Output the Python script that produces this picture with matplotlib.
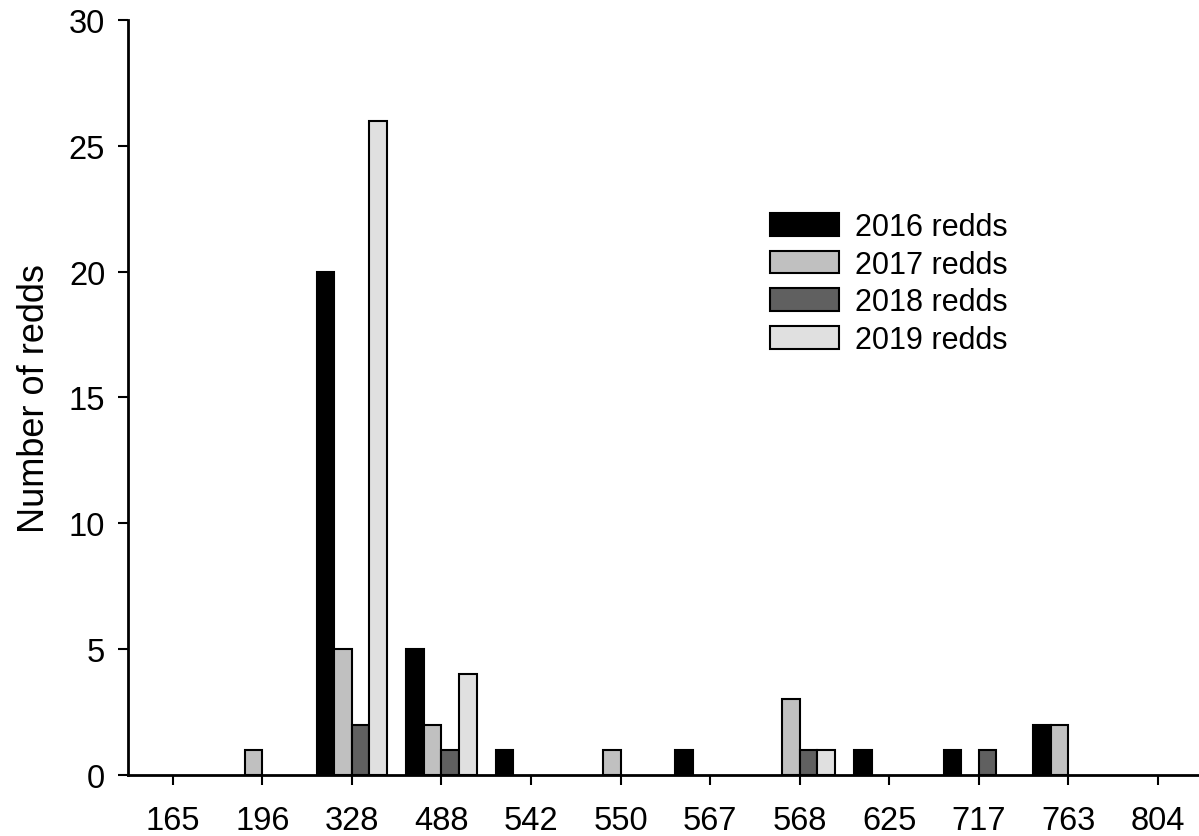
import numpy as np
import matplotlib
matplotlib.use('Agg')
from matplotlib import pyplot as plt

plt.rcParams['font.family'] = ['Liberation Sans', 'DejaVu Sans']

# Categories along the x-axis
sites = ['165', '196', '328', '488', '542', '550', '567', '568', '625', '717', '763', '804']

# Redd counts per year
redds_2016 = [0, 0, 20, 5, 1, 0, 1, 0, 1, 1, 2, 0]
redds_2017 = [0, 1, 5, 2, 0, 1, 0, 3, 0, 0, 2, 0]
redds_2018 = [0, 0, 2, 1, 0, 0, 0, 1, 0, 1, 0, 0]
redds_2019 = [0, 0, 26, 4, 0, 0, 0, 1, 0, 0, 0, 0]

series = [
    ('2016 redds', redds_2016, '#000000'),
    ('2017 redds', redds_2017, '#c0c0c0'),
    ('2018 redds', redds_2018, '#606060'),
    ('2019 redds', redds_2019, '#e0e0e0'),
]

fig = plt.figure(figsize=(11.99, 8.37), dpi=100)
ax = fig.add_axes([0.1068, 0.0729, 0.8962, 0.902])

x = np.arange(len(sites))
width = 0.196
for i, (label, vals, colour) in enumerate(series):
    offset = (i - 1.5) * width
    # skip zero-height bars so no stray edge line sits on the axis
    xs = [xi + offset for xi, v in zip(x, vals) if v > 0]
    ys = [v for v in vals if v > 0]
    ax.bar(xs, ys, width=width, color=colour, edgecolor='black',
           linewidth=1.5, label=label, zorder=2)

ax.set_xlim(-0.5, 11.5)
ax.set_ylim(0, 30)
ax.set_xticks(x)
ax.set_xticklabels(sites)
ax.set_yticks(range(0, 31, 5))

for side in ('top', 'right'):
    ax.spines[side].set_visible(False)
for side in ('left', 'bottom'):
    ax.spines[side].set_linewidth(2)
    ax.spines[side].set_zorder(3)

ax.tick_params(axis='both', direction='out', length=7.5, width=1.5,
               labelsize=23.5, colors='black')
ax.tick_params(axis='x', pad=14)
ax.tick_params(axis='y', pad=9)

ax.set_ylabel('Number of redds', fontsize=26, labelpad=12)

ax.legend(loc='upper left', bbox_to_anchor=(770 / 1199, 1 - 213 / 837),
          bbox_transform=fig.transFigure, frameon=False, fontsize=22,
          handlelength=2.25, handleheight=0.78, handletextpad=0.52,
          labelspacing=0.25, borderpad=0, borderaxespad=0)

fig.savefig('out.png', dpi=100)
